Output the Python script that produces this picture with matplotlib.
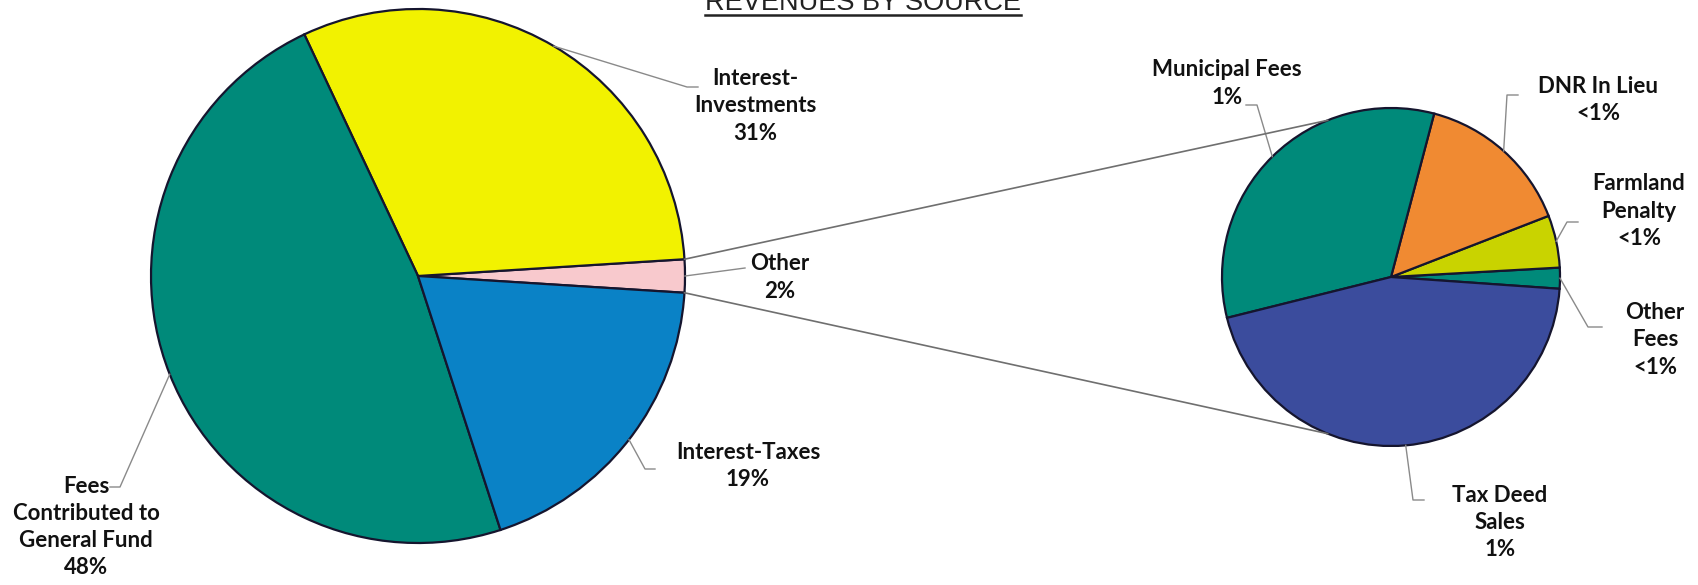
import matplotlib.pyplot as plt
import numpy as np

# revenue shares (percent of total)
main_labels = ['Other', 'Interest-\nInvestments', 'Fees\nContributed to\nGeneral Fund', 'Interest-Taxes']
main_values = [2, 31, 48, 19]
main_colors = ['#f8c9cd', '#f2f200', '#008a7a', '#0a82c6']

# breakdown of "Other", also in percent of total revenue
sub_labels = ['Other\nFees', 'Farmland\nPenalty', 'DNR In Lieu', 'Municipal Fees', 'Tax Deed\nSales']
sub_values = [0.04, 0.10, 0.30, 0.66, 0.90]
sub_colors = ['#008a7a', '#c9d300', '#f08a32', '#008a7a', '#3b4c9d']

title = 'REVENUES BY SOURCE'

plt.rcParams['font.family'] = ['Lato', 'DejaVu Sans']

W, H = 1698, 585
fig = plt.figure(figsize=(W / 100, H / 100), dpi=100)
ax = fig.add_axes([0, 0, 1, 1])

big_c, big_r = (418, 309), 267
small_c, small_r = (1391, 308), 169
edge = dict(edgecolor='#15152e', linewidth=1.6)

big_wedges, _ = ax.pie(main_values, colors=main_colors, center=big_c, radius=big_r,
                       startangle=-360 * main_values[0] / 100 / 2, wedgeprops=edge)
small_wedges, _ = ax.pie(sub_values, colors=sub_colors, center=small_c, radius=small_r,
                         startangle=-4, wedgeprops=edge)


def on_circle(c, r, ang):
    a = np.radians(ang)
    return c[0] + r * np.cos(a), c[1] + r * np.sin(a)


def pct(v):
    return '<1%' if round(v) < 1 else f'{round(v)}%'


# label text position, elbow point, end of leader
main_pos = [((780, 307.5), (745, 317), (745, 317)),
            ((755, 479), (687, 498), (698, 498)),
            ((86, 58), (120, 98), (110, 98)),
            ((748, 119), (645, 116), (655, 116))]
sub_pos = [((1655, 245), (1588, 258), (1602, 258)),
           ((1639, 374), (1567, 363), (1578, 363)),
           ((1598, 485), (1507, 490), (1518, 490)),
           ((1227, 501.5), (1257, 480), (1246, 480)),
           ((1500, 62.5), (1413, 85), (1424, 85))]

lead = dict(color='#8a8a8a', lw=1.0)
txt = dict(ha='center', va='center', fontsize=16, fontweight='bold',
           linespacing=1.37, color='#111111')

for w, lab, v, (tp, el, end) in zip(big_wedges, main_labels, main_values, main_pos):
    sx, sy = on_circle(big_c, big_r, (w.theta1 + w.theta2) / 2)
    ax.plot([sx, el[0], end[0]], [sy, el[1], end[1]], **lead)
    ax.text(tp[0], tp[1], f'{lab}\n{v}%', **txt)

for w, lab, v, (tp, el, end) in zip(small_wedges, sub_labels, sub_values, sub_pos):
    sx, sy = on_circle(small_c, small_r, (w.theta1 + w.theta2) / 2)
    ax.plot([sx, el[0], end[0]], [sy, el[1], end[1]], **lead)
    ax.text(tp[0], tp[1], f'{lab}\n{pct(v)}', **txt)

# lines joining the "Other" slice to its breakdown
other = big_wedges[0]
link_angle = 112
for a_big, a_small in [(other.theta2, link_angle), (other.theta1, 360 - link_angle)]:
    x0, y0 = on_circle(big_c, big_r, a_big)
    x1, y1 = on_circle(small_c, small_r, a_small)
    ax.plot([x0, x1], [y0, y1], color='#6f6f6f', lw=1.2)

# title sits at the top edge, underlined
t = ax.text(863, 575, title, ha='center', va='baseline', fontsize=19.5,
            family='Liberation Sans', color='#222222')

ax.set_xlim(0, W)
ax.set_ylim(0, H)
ax.set_aspect('equal')
ax.axis('off')

fig.canvas.draw()
bb = t.get_window_extent().transformed(ax.transData.inverted())
ax.plot([bb.x0, bb.x1], [570.5, 570.5], color='#222222', lw=1.8)

fig.savefig('out.png', dpi=100, facecolor='white')
